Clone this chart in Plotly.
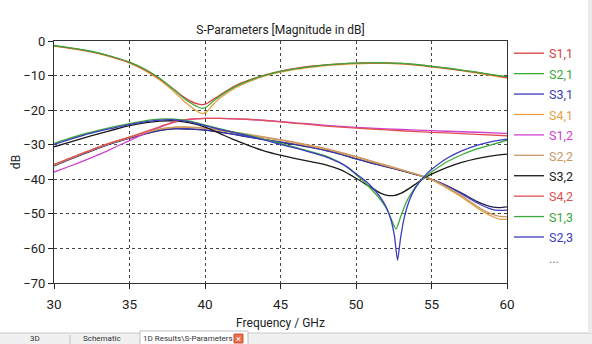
import plotly.graph_objects as go

# ---------------- data ----------------
freq_a = [30, 31, 32, 33, 34, 35, 36, 37, 38, 38.5, 39, 39.5, 39.8, 40.1, 40.5, 41, 42, 43, 44, 45,
          46, 47, 48, 49, 50, 51, 52, 53, 54, 55, 56, 57, 58, 59, 60]
s11 = [-1.4, -2.0, -2.7, -3.6, -4.8, -6.2, -8.2, -10.9, -14.2, -15.9, -17.3, -18.2, -18.4, -18.1, -17.0,
       -15.6, -13.0, -11.2, -9.8, -8.7, -7.9, -7.3, -6.9, -6.6, -6.4, -6.3, -6.3, -6.5, -6.9, -7.4,
       -7.9, -8.5, -9.1, -9.8, -10.5]
s21 = [-1.3, -1.9, -2.6, -3.5, -4.7, -6.1, -8.1, -10.8, -14.3, -16.2, -17.8, -19.0, -19.5, -19.1, -17.6,
       -15.9, -13.2, -11.3, -9.9, -8.8, -8.0, -7.4, -6.9, -6.6, -6.4, -6.3, -6.3, -6.5, -6.8, -7.3,
       -7.8, -8.4, -9.0, -9.7, -10.3]
s33 = [-1.5, -2.1, -2.8, -3.7, -4.9, -6.4, -8.5, -11.3, -14.9, -17.0, -18.8, -20.4, -21.0, -20.5, -18.6,
       -16.5, -13.6, -11.6, -10.1, -9.0, -8.2, -7.6, -7.1, -6.8, -6.6, -6.5, -6.5, -6.7, -7.0, -7.5,
       -8.0, -8.6, -9.3, -10.0, -10.7]

freq_b = [30, 31, 32, 33, 34, 35, 36, 37, 38, 39, 40, 41, 42, 43, 44, 45, 46, 47, 48, 49, 50,
          52, 54, 56, 58, 60]
s42 = [-35.7, -34.0, -32.3, -30.6, -29.1, -27.8, -26.3, -24.8, -23.3, -22.6, -22.4, -22.4, -22.5, -22.7,
       -23.0, -23.4, -23.8, -24.2, -24.6, -24.9, -25.2, -25.7, -26.2, -26.6, -27.0, -27.4]
s12 = [-37.9, -36.3, -34.6, -32.8, -30.8, -28.8, -26.8, -25.0, -23.5, -22.7, -22.4, -22.4, -22.5, -22.7,
       -23.0, -23.3, -23.7, -24.0, -24.4, -24.7, -25.0, -25.4, -25.8, -26.1, -26.4, -26.7]

freq_c = [30, 31, 32, 33, 34, 35, 36, 37, 38, 39, 40, 41, 42, 43, 44, 45, 46, 47, 48, 49, 50,
          51, 52, 53, 54, 55, 56, 57, 58, 59, 59.5, 60]
s41 = [-35.9, -34.1, -32.4, -30.7, -29.2, -27.9, -26.6, -25.5, -25.0, -25.0, -25.3, -25.9, -26.6, -27.3,
       -28.0, -28.7, -29.5, -30.4, -31.3, -32.4, -33.6, -34.9, -36.1, -37.3, -38.6, -40.2, -42.5,
       -45.2, -48.2, -50.7, -51.5, -51.6]
s22 = [-35.8, -34.0, -32.3, -30.6, -29.1, -27.8, -26.5, -25.4, -24.9, -24.9, -25.2, -25.7, -26.4, -27.1,
       -27.8, -28.5, -29.3, -30.2, -31.1, -32.2, -33.4, -34.7, -35.9, -37.2, -38.5, -40.0, -42.2,
       -44.8, -47.8, -50.1, -50.7, -50.8]
s31 = [-36.0, -34.2, -32.5, -30.8, -29.3, -28.0, -26.8, -25.8, -25.3, -25.4, -25.7, -26.3, -27.0, -27.8,
       -28.5, -29.2, -29.9, -30.7, -31.6, -32.7, -34.0, -35.2, -36.3, -37.4, -38.6, -40.0, -41.9,
       -44.2, -46.8, -48.7, -49.0, -48.9]
s24 = [-36.1, -34.3, -32.6, -30.9, -29.4, -28.1, -26.9, -25.9, -25.4, -25.5, -25.8, -26.4, -27.1, -27.9,
       -28.6, -29.3, -30.0, -30.8, -31.7, -32.8, -34.1, -35.3, -36.4, -37.5, -38.7, -40.0, -41.8,
       -44.0, -46.4, -48.0, -48.2, -48.0]

freq_d1 = [30, 31, 32, 33, 34, 35, 36, 37, 38, 39, 40, 41, 42, 43, 44, 45, 46, 47, 48, 48.5, 49,
           49.5, 50, 50.5, 51, 51.5, 52, 52.3, 52.65, 53, 53.4, 53.8, 54.2, 54.6, 55, 56, 57, 58,
           59, 60]
s13 = [-29.6, -28.2, -26.9, -25.8, -24.8, -23.9, -23.1, -22.6, -22.6, -23.2, -24.3, -25.4, -26.4, -27.4,
       -28.5, -29.6, -30.8, -32.0, -33.3, -34.2, -35.3, -36.8, -38.6, -40.5, -42.8, -45.2, -48.3,
       -51.2, -54.4, -50.3, -46.0, -43.1, -40.8, -39.2, -37.9, -35.0, -32.9, -31.2, -30.0, -28.7]

freq_d2 = [30, 31, 32, 33, 34, 35, 36, 37, 38, 39, 40, 41, 42, 43, 44, 45, 46, 47, 48, 48.5, 49,
           49.5, 50, 50.5, 51, 51.5, 52, 52.3, 52.55, 52.75, 52.95, 53.2, 53.5, 53.8, 54.2, 54.6,
           55, 56, 57, 58, 59, 60]
s23 = [-29.9, -28.5, -27.2, -26.1, -25.1, -24.2, -23.4, -22.9, -22.8, -23.4, -24.5, -25.6, -26.6, -27.6,
       -28.7, -29.9, -31.0, -32.2, -33.5, -34.4, -35.4, -36.7, -38.4, -40.0, -42.0, -44.5, -48.0,
       -51.5, -56.5, -63.4, -57.0, -51.0, -46.5, -43.5, -40.8, -38.8, -37.2, -34.0, -31.8, -30.2,
       -29.1, -28.4]

freq_e = [30, 31, 32, 33, 34, 35, 36, 37, 38, 39, 40, 41, 42, 43, 44, 45, 46, 47, 48, 49, 50, 51,
          51.5, 52, 52.5, 53, 53.5, 54, 54.5, 55, 56, 57, 58, 59, 60]
s32 = [-30.6, -29.3, -28.0, -26.8, -25.6, -24.5, -23.7, -23.2, -23.1, -23.7, -24.9, -26.8, -28.7, -30.4,
       -31.9, -33.0, -34.0, -34.9, -35.8, -37.3, -39.7, -42.4, -43.7, -44.6, -44.7, -44.0, -42.7,
       -41.2, -39.7, -38.5, -36.6, -35.1, -34.0, -33.2, -32.7]

x_ticks = [30, 35, 40, 45, 50, 55, 60]
y_ticks = [-70, -60, -50, -40, -30, -20, -10, 0]

# (name, freq, values, colour, in legend)
series = [
    ("S3,3", freq_a, s33, "#e8a040", False),
    ("S2,4", freq_c, s24, "#202050", False),
    ("S1,1", freq_a, s11, "#d83c3c", True),
    ("S2,1", freq_a, s21, "#3aa83a", True),
    ("S3,1", freq_c, s31, "#3c3cb8", True),
    ("S4,1", freq_c, s41, "#e8a040", True),
    ("S1,2", freq_b, s12, "#d040d0", True),
    ("S2,2", freq_c, s22, "#c89868", True),
    ("S3,2", freq_e, s32, "#1a1a1a", True),
    ("S4,2", freq_b, s42, "#e05050", True),
    ("S1,3", freq_d1, s13, "#3aa83a", True),
    ("S2,3", freq_d2, s23, "#3c3cc0", True),
]
legend_order = ["S1,1", "S2,1", "S3,1", "S4,1", "S1,2", "S2,2", "S3,2", "S4,2", "S1,3", "S2,3"]

FONT = "Roboto, Liberation Sans, sans-serif"

fig = go.Figure()
for name, fx, fy, col, show in series:
    rank = legend_order.index(name) if name in legend_order else 99
    fig.add_trace(go.Scatter(
        x=fx, y=fy, mode="lines",
        name=f"<span style='color:{col};font-size:12.5px'>{name}</span>",
        line=dict(color=col, width=1.3, shape="spline", smoothing=0.6),
        showlegend=show, legendrank=rank + 1))
fig.add_trace(go.Scatter(x=[None], y=[None], mode="lines",
                         name="<span style='color:#777;font-size:12.5px'>...</span>",
                         line=dict(color="rgba(0,0,0,0)"), legendrank=50))

# pixel helpers for layout decorations (plot area 54..507 x 41..283)
L, R, T, B = 54, 507, 41, 283
def px(xp):
    return (xp - L) / (R - L)
def py(yp):
    return (B - yp) / (B - T)

shapes = [
    # tab bar
    dict(type="rect", xref="paper", yref="paper", x0=px(-2), x1=px(594), y0=py(333), y1=py(346),
         fillcolor="#f0f0f0", line=dict(width=0)),
    dict(type="line", xref="paper", yref="paper", x0=px(-2), x1=px(594), y0=py(333), y1=py(333),
         line=dict(color="#c8c8c8", width=1)),
    dict(type="line", xref="paper", yref="paper", x0=px(70), x1=px(70), y0=py(335), y1=py(346),
         line=dict(color="#c0c0c0", width=1)),
    dict(type="rect", xref="paper", yref="paper", x0=px(140), x1=px(248), y0=py(331), y1=py(346),
         fillcolor="#ffffff", line=dict(color="#c0c0c0", width=1)),
    dict(type="rect", xref="paper", yref="paper", x0=px(234), x1=px(243), y0=py(334), y1=py(343),
         fillcolor="#e8704a", line=dict(color="#d05030", width=1)),
    # right border strip
    dict(type="rect", xref="paper", yref="paper", x0=px(588), x1=px(594), y0=py(-2), y1=py(333),
         fillcolor="#ececec", line=dict(width=0)),
]

TAB_FONT = dict(size=8, color="#333", family=FONT)
annotations = [
    dict(text="3D", x=px(35), y=py(338.5), xref="paper", yref="paper", showarrow=False,
         xanchor="center", yanchor="middle", font=TAB_FONT),
    dict(text="Schematic", x=px(102), y=py(338.5), xref="paper", yref="paper", showarrow=False,
         xanchor="center", yanchor="middle", font=TAB_FONT),
    dict(text="1D Results\\S-Parameters", x=px(188), y=py(338.5), xref="paper", yref="paper",
         showarrow=False, xanchor="center", yanchor="middle", font=TAB_FONT),
    dict(text="×", x=px(238.5), y=py(338.5), xref="paper", yref="paper", showarrow=False,
         xanchor="center", yanchor="middle", font=dict(size=9, color="#ffffff", family=FONT)),
]

fig.update_layout(
    width=592, height=344,
    margin=dict(l=L, r=592 - R, t=T, b=344 - B, autoexpand=False),
    paper_bgcolor="white", plot_bgcolor="white",
    font=dict(family=FONT, color="#222", size=13),
    title=dict(text="S-Parameters [Magnitude in dB]", x=0.5, xref="paper",
               y=1 - 30 / 344, yref="container", yanchor="middle",
               font=dict(size=12, color="#222", family=FONT)),
    xaxis=dict(range=[30, 60], tickvals=x_ticks, ticks="outside", ticklen=5, tickcolor="#222",
               showgrid=True, gridcolor="#444", griddash="dot", gridwidth=1,
               showline=True, linecolor="#333", linewidth=1, mirror=True, zeroline=False,
               tickfont=dict(size=13.5, family=FONT, color="#222"), ticklabelstandoff=4,
               title=dict(text="Frequency / GHz", standoff=7,
                          font=dict(size=12, family=FONT, color="#222"))),
    yaxis=dict(range=[-70, 0], tickvals=y_ticks, ticks="outside", ticklen=5, tickcolor="#222",
               showgrid=True, gridcolor="#444", griddash="dot", gridwidth=1,
               showline=True, linecolor="#333", linewidth=1, mirror=True, zeroline=False,
               tickfont=dict(size=13, family=FONT, color="#222"), ticklabelstandoff=0,
               title=dict(text="dB", standoff=0, font=dict(size=12, family=FONT, color="#222"))),
    legend=dict(x=px(509), xanchor="left", y=py(38), yanchor="top", maxheight=1,
                font=dict(size=13.4, family=FONT), bgcolor="rgba(0,0,0,0)",
                itemclick=False, itemdoubleclick=False, tracegroupgap=0),
    shapes=shapes, annotations=annotations,
    showlegend=True,
)

fig.write_html("out.html")
